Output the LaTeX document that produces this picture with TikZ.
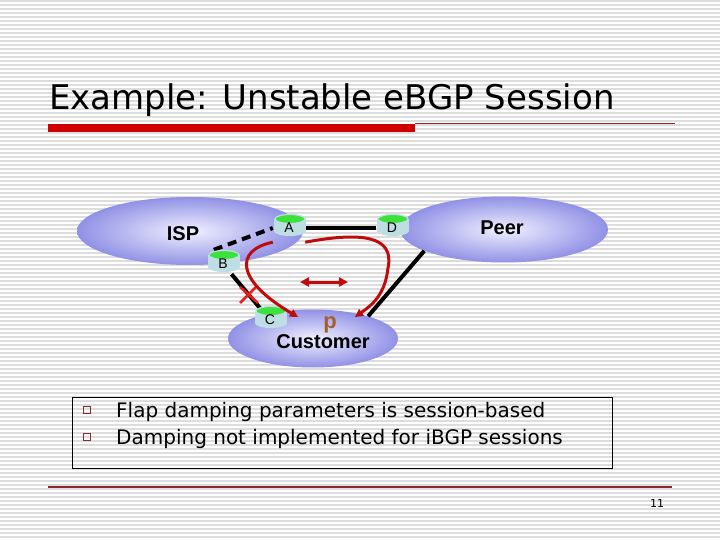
\documentclass[tikz,border=0pt]{standalone}
\usepackage{fontspec}
\setmainfont{DejaVu Sans}
\newfontfamily\arialfont{Liberation Sans}
\usetikzlibrary{arrows.meta,shapes.geometric}
\definecolor{stripegray}{RGB}{221,221,221}
\definecolor{barred}{RGB}{204,0,0}
\definecolor{linered}{RGB}{140,40,40}
\definecolor{arrowred}{RGB}{190,12,12}
\definecolor{xred}{RGB}{230,30,30}
\definecolor{cloudin}{RGB}{240,240,255}
\definecolor{cloudout}{RGB}{145,145,230}
\definecolor{rbody}{RGB}{190,222,228}
\definecolor{rtop}{RGB}{60,225,60}
\definecolor{pbrown}{RGB}{165,95,45}
\definecolor{bulletred}{RGB}{140,40,50}
\pgfdeclarelayer{back}
\pgfdeclarelayer{mid}
\pgfsetlayers{back,mid,main}
\newcommand\myrouter[4]{%
  \fill[rbody] (#2-16,#3-5) rectangle (#2+16,#3+7);
  \fill[rbody] (#2,#3+7) ellipse [x radius=16pt, y radius=5pt];
  \filldraw[fill=rtop, draw=rbody, line width=1.2pt] (#2,#3-5) ellipse [x radius=15pt, y radius=4.5pt];
  \node[rlabel] (#1) at (#2-1,#3+4) {#4};
}
\begin{document}
\begin{tikzpicture}[x=1pt,y=-1pt,
  stripe/.style={stripegray, line width=1.2pt},
  cloudshape/.style={ellipse, inner sep=0pt, shade, inner color=cloudin, outer color=cloudout},
  cloudtext/.style={font=\arialfont\bfseries\fontsize{20}{22}\selectfont, inner sep=0pt},
  rlabel/.style={font=\arialfont\fontsize{14}{14}\selectfont, inner sep=0pt, minimum width=32pt, minimum height=20pt},
  link/.style={line width=4pt, black},
  redpath/.style={arrowred, line width=3pt, -{Triangle[length=8pt,width=8pt]}},
  bullettext/.style={font=\fontsize{20}{24}\selectfont, inner sep=0pt, anchor=base west},
  bulletbox/.style={draw=bulletred, line width=0.9pt, minimum size=7pt, inner sep=0pt}
]
\useasboundingbox (0,0) rectangle (720,540);
\begin{pgfonlayer}{back}
  \fill[white] (0,0) rectangle (720,540);
  \foreach \yy in {1,5,...,537} \draw[stripe] (0,\yy) -- (720,\yy);
\end{pgfonlayer}

% title
\node[font=\fontsize{34}{40}\selectfont, inner sep=0pt, anchor=base west] (title) at (49,110) {Example: Unstable eBGP Session};
\fill[barred] (48,124) rectangle (415,132);
\draw[linered, line width=1pt] (415,123.5) -- (675,123.5);

% clouds
\begin{pgfonlayer}{back}
  \node[cloudshape, minimum width=226pt, minimum height=68pt] (isp) at (190,231) {};
  \node[cloudshape, minimum width=208pt, minimum height=66pt] (peer) at (504,229.5) {};
  \node[cloudshape, minimum width=170pt, minimum height=58pt] (cust) at (313,338.5) {};
\end{pgfonlayer}
\node[cloudtext] (isptext) at (183,234) {ISP};
\node[cloudtext] (peertext) at (502,228) {Peer};
\node[cloudtext] (custtext) at (323,342) {Customer};
\node[font=\arialfont\bfseries\fontsize{22}{22}\selectfont, text=pbrown, inner sep=0pt] (ptext) at (330,325) {p};

% routers
\myrouter{A}{290}{224}{A}
\myrouter{B}{224}{260}{B}
\myrouter{C}{271}{316}{C}
\myrouter{D}{393}{224}{D}

% black links
\begin{pgfonlayer}{mid}
  \draw[link] (A.east) -- (D.west);
  \draw[link] (B) -- (C);
  \draw[link, dash pattern=on 9pt off 6pt] ([shift={(7pt,4pt)}]B.north west) -- (A.west);
  \draw[link] (peer.195) -- (cust.22);
\end{pgfonlayer}

% red X
\draw[xred, line width=2.5pt] (240,287) -- (258,303) (240,303) -- (257,286);

% red paths
\coordinate (t1) at (298,317);
\coordinate (t2) at (355,317);
\draw[redpath] ([yshift=-4pt]A.south west) .. controls (235,250) and (235,280) .. (t1);
\draw[redpath] ([yshift=-4pt]A.south east) .. controls (360,232) and (395,235) .. (388,268) .. controls (385,295) and (372,305) .. (t2);
\coordinate (dl) at (300,282);
\coordinate (dr) at (348,282);
\draw[arrowred, line width=3pt, {Triangle[length=9pt,width=9pt]}-{Triangle[length=9pt,width=9pt]}] (dl) -- (dr);

% bullets
\draw[black, line width=0.9pt] (72,397) rectangle (612,468);
\node[bulletbox] (b1) at (87,410) {};
\node[bulletbox] (b2) at (87,437) {};
\node[bullettext] (l1) at (116,417) {Flap damping parameters is session-based};
\node[bullettext] (l2) at (116,444) {Damping not implemented for iBGP sessions};

% footer
\draw[linered, line width=1.2pt] (48,487) -- (672,487);
\node[font=\fontsize{11}{12}\selectfont, inner sep=0pt, anchor=base] (pg) at (657,507) {11};
\end{tikzpicture}
\end{document}
